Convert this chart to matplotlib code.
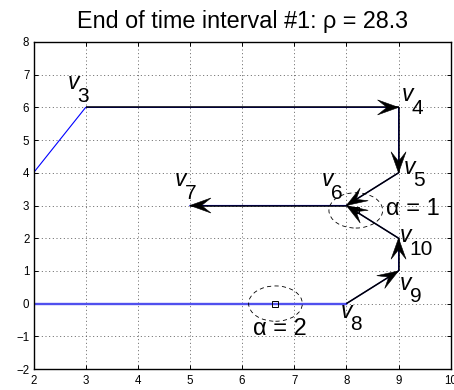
import numpy as np
import matplotlib
matplotlib.use("Agg")
import matplotlib.pyplot as plt
from matplotlib.patches import Ellipse, Polygon

plt.rcParams['font.family'] = ['Liberation Sans', 'DejaVu Sans']

# Vertices of the graph
vertex_names = ["3", "4", "5", "6", "7", "8", "9", "10"]
vertex_x = [3, 9, 9, 8, 5, 8, 9, 9]
vertex_y = [6, 6, 4, 3, 3, 0, 1, 2]

# Directed moves between vertices
moves = [("3", "4"), ("4", "5"), ("5", "6"), ("6", "7"),
         ("8", "9"), ("9", "10"), ("10", "6")]

# Trajectories traced in blue: start point, then visited vertices
path_a_start = (2, 4)
path_a = ["3", "4", "5", "6", "7"]
path_b_start = (2, 0)
path_b = ["8", "9", "10", "6"]

# Cluster centres and their alpha values
cluster_x = [8.18, 6.64]
cluster_y = [2.85, 0.0]
cluster_alpha = [1, 2]

interval = 1
rho = 28.3

# Label placement (pixels relative to each vertex: italic v, then index)
label_offset = {"3": (-18, 18), "4": (3, 6), "5": (5, -1), "6": (-25, 19),
                "7": (-15, 19), "8": (-6, -14), "9": (1, -19), "10": (1, -4)}
sub_offset = (10, -12.5)
alpha_text_pos = [(8.76, 2.71), (6.20, -0.96)]

pos = {n: (x, y) for n, x, y in zip(vertex_names, vertex_x, vertex_y)}

fig = plt.figure(figsize=(4.54, 3.90), dpi=100)
W, H = 454, 390
ax = fig.add_axes([33.5 / W, 21 / H, (450.7 - 33.5) / W, (369 - 42) / H])
ax.set_xlim(2, 10)
ax.set_ylim(-2, 8)
ax.set_xticks(range(2, 11))
ax.set_yticks(range(-2, 9))
ax.grid(True, color='0.3', lw=0.6, linestyle=(0, (1.2, 3.2)))
ax.set_axisbelow(True)
ax.tick_params(direction='in', length=3, width=0.7, top=True, right=True,
               labelsize=8.3, pad=3)
ax.tick_params(axis='x', pad=4)
for s in ax.spines.values():
    s.set_linewidth(1.0)

# Blue trajectories
xa = [path_a_start[0]] + [pos[n][0] for n in path_a]
ya = [path_a_start[1]] + [pos[n][1] for n in path_a]
ax.plot(xa, ya, color='#0000ff', lw=0.8, zorder=2)
xb = [path_b_start[0]] + [pos[n][0] for n in path_b]
yb = [path_b_start[1]] + [pos[n][1] for n in path_b]
ax.plot(xb[:2], yb[:2], color='#5050ee', lw=1.7, zorder=2)
ax.plot(xb[1:], yb[1:], color='#0000ff', lw=0.8, zorder=2)

# Cluster ellipses and centres
for cx, cy in zip(cluster_x, cluster_y):
    ax.add_patch(Ellipse((cx, cy), 1.03, 1.08, fill=False, ec='k', lw=0.6,
                         linestyle=(0, (5, 4)), zorder=3))
    ax.plot(cx, cy, marker='s', ms=4.5, mfc='none', mec='k', mew=0.7, zorder=3)

fig.canvas.draw()
T = ax.transData
Tinv = T.inverted()


def arrow(x0, y0, x1, y1, L=21, hw=7.5, notch=0.55):
    ax.plot([x0, x1], [y0, y1], color='k', lw=1.1, zorder=4,
            solid_capstyle='butt')
    p0 = T.transform((x0, y0))
    p1 = T.transform((x1, y1))
    d = p1 - p0
    u = d / np.hypot(*d)
    nrm = np.array([-u[1], u[0]])
    pts = np.array([p1, p1 - L * u + hw * nrm, p1 - notch * L * u,
                    p1 - L * u - hw * nrm])
    ax.add_patch(Polygon(Tinv.transform(pts), closed=True, fc='k', ec='k',
                         lw=0.4, zorder=5))


for a, b in moves:
    arrow(*pos[a], *pos[b])

# Vertex labels
for n in vertex_names:
    dx, dy = label_offset[n]
    ax.annotate('v', pos[n], xytext=(dx, dy), textcoords='offset pixels',
                fontsize=16.5, style='italic', ha='left', va='baseline',
                zorder=6, annotation_clip=False)
    ax.annotate(n, pos[n], xytext=(dx + sub_offset[0], dy + sub_offset[1]),
                textcoords='offset pixels', fontsize=15, ha='left',
                va='baseline', zorder=6, annotation_clip=False)

for (tx, ty), a in zip(alpha_text_pos, cluster_alpha):
    ax.text(tx, ty, f'α = {a}', fontsize=17, ha='left', va='baseline',
            zorder=6)

ax.set_title(f'End of time interval #{interval}: ρ = {rho}', fontsize=16.8,
             pad=10)

fig.savefig('out.png', dpi=100)
